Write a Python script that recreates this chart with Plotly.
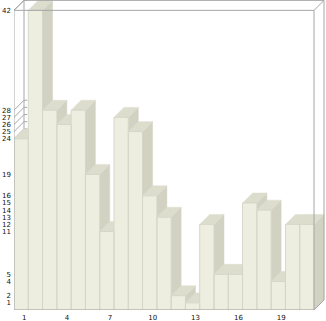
import plotly.graph_objects as go

# ---- data ----
categories = list(range(1, 22))
values = [24, 42, 28, 26, 28, 19, 11, 27, 25, 16, 13, 2, 1, 12, 5, 5, 15, 14, 4, 12, 12]
y_ticks = sorted(set(values))
x_ticks = [1, 4, 7, 10, 13, 16, 19]

# ---- style constants ----
DX = 0.7    # 3D depth offset in x units
DY = 1.4    # 3D depth offset in y units
FRONT = "#EEEEE0"
TOP = "#DDDDCE"
SIDE = "#D2D2C2"
EDGE = "#D6D6C8"
FRAME = "#A6A6A6"

x_min = min(categories) - 0.5
x_max = max(categories) + 0.5
y_top = max(values)

fig = go.Figure()

# back wall lines (behind bars) + y tick connectors
bx, by = [], []
bx += [x_min + DX, x_min + DX, None]
by += [DY, y_top + DY, None]
bx += [x_min + DX, x_max + DX, None]
by += [DY, DY, None]
for v in y_ticks:
    bx += [x_min, x_min + DX, x_min + DX + 0.22, None]
    by += [v, v + DY, v + DY, None]
fig.add_trace(go.Scatter(x=bx, y=by, mode="lines", line=dict(color=FRAME, width=1),
                         hoverinfo="skip", showlegend=False))

# faces
sx, sy, tx, ty, fx, fy = [], [], [], [], [], []
for c, v in zip(categories, values):
    l, r = c - 0.5, c + 0.5
    sx += [r, r + DX, r + DX, r, r, None]
    sy += [0, DY, v + DY, v, 0, None]
    tx += [l, r, r + DX, l + DX, l, None]
    ty += [v, v, v + DY, v + DY, v, None]
    fx += [l, r, r, l, l, None]
    fy += [0, 0, v, v, 0, None]

fig.add_trace(go.Scatter(x=sx, y=sy, mode="lines", fill="toself", fillcolor=SIDE,
                         line=dict(color=SIDE, width=0.5), hoverinfo="skip", showlegend=False))
fig.add_trace(go.Scatter(x=tx, y=ty, mode="lines", fill="toself", fillcolor=TOP,
                         line=dict(color=TOP, width=0.5), hoverinfo="skip", showlegend=False))
fig.add_trace(go.Scatter(x=fx, y=fy, mode="lines", fill="toself", fillcolor=FRONT,
                         line=dict(color=EDGE, width=1), hoverinfo="skip", showlegend=False))

# front frame lines (on top)
ox, oy = [], []
ox += [x_min, x_min, None]; oy += [0, y_top, None]
ox += [x_min, x_max, None]; oy += [0, 0, None]
ox += [x_min, x_max, None]; oy += [y_top, y_top, None]
ox += [x_max, x_max, None]; oy += [0, y_top, None]
ox += [x_min, x_min + DX, x_max + DX, x_max, None]; oy += [y_top, y_top + DY, y_top + DY, y_top, None]
ox += [x_max + DX, x_max + DX, x_max, None]; oy += [y_top + DY, DY, 0, None]
fig.add_trace(go.Scatter(x=ox, y=oy, mode="lines", line=dict(color=FRAME, width=1),
                         hoverinfo="skip", showlegend=False))

font = dict(family="DejaVu Sans", size=7, color="#111111")
fig.update_layout(
    width=326, height=321,
    margin=dict(l=14, r=1, t=0, b=11, pad=0),
    paper_bgcolor="white", plot_bgcolor="white",
    xaxis=dict(range=[x_min, x_max + DX + 0.07], showgrid=False, zeroline=False, showline=False,
               tickmode="array", tickvals=x_ticks, ticktext=[str(t) for t in x_ticks],
               ticks="", tickfont=font, ticklabelshift=3, ticklabelstandoff=2),
    yaxis=dict(range=[0, y_top + DY + 0.05], showgrid=False, zeroline=False, showline=False,
               tickmode="array", tickvals=y_ticks, ticktext=[str(t) for t in y_ticks],
               ticks="", tickfont=font, ticklabelstandoff=2),
)

fig.write_html("out.html")
